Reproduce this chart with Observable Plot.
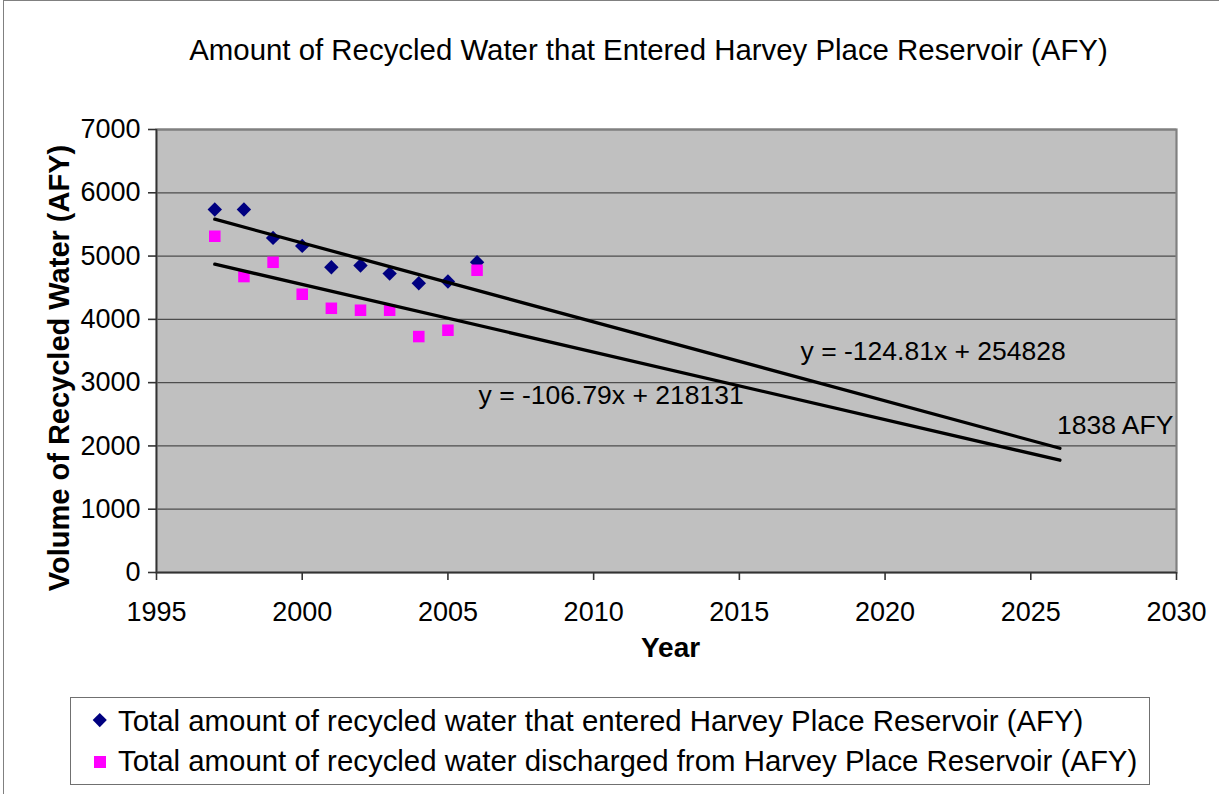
<!DOCTYPE html>
<html>
<head>
<meta charset="utf-8">
<script src="https://cdn.jsdelivr.net/npm/d3@7"></script>
<script src="https://cdn.jsdelivr.net/npm/@observablehq/plot@0.6"></script>
<style>
  html, body { margin: 0; padding: 0; background: #fff; overflow: hidden; }
  #chart { position: relative; width: 1219px; height: 794px; overflow: hidden;
           font-family: "Liberation Sans", Arial, sans-serif; color: #000; }
  #outer { position: absolute; left: 3px; top: 0px; width: 1400px; height: 1000px;
           border-left: 1.5px solid #808080; border-top: 1.5px solid #808080; box-sizing: border-box; }
  #title { position: absolute; left: 0; top: 35px; width: 1297px; text-align: center;
           font-size: 29.4px; line-height: 29px; white-space: nowrap; }
  #plot { position: absolute; left: 0; top: 0; }
  #legend { position: absolute; left: 70px; top: 697px; width: 1080px; height: 88px;
            border: 1.5px solid #707070; box-sizing: border-box; }
  .row { position: absolute; left: 47px; font-size: 29.4px; line-height: 29px; white-space: nowrap; }
  .key { position: absolute; }
</style>
</head>
<body>
<div id="chart">
  <div id="outer"></div>
  <div id="plot"></div>
  <div id="title"></div>
  <div id="legend"></div>
</div>
<script>
// Years of record
const years = [1997, 1998, 1999, 2000, 2001, 2002, 2003, 2004, 2005, 2006];
// Recycled water that entered the reservoir (AFY)
const entered = [5735, 5735, 5287, 5161, 4823, 4850, 4723, 4570, 4597, 4902];
// Recycled water discharged from the reservoir (AFY)
const discharged = [5313, 4676, 4902, 4397, 4175, 4144, 4144, 3728, 3828, 4776];

// Linear trendlines (y = slope * year + intercept), projected to 2026
const trendEntered = {slope: -124.81, intercept: 254828, from: 1997, to: 2026};
const trendDischarged = {slope: -106.79, intercept: 218131, from: 1997, to: 2026};
const projectionLabel = "1838 AFY";

// Axis ticks
const xTicks = [1995, 2000, 2005, 2010, 2015, 2020, 2025, 2030];
const yTicks = [0, 1000, 2000, 3000, 4000, 5000, 6000, 7000];

const seriesNames = [
  "Total amount of recycled water that entered Harvey Place Reservoir (AFY)",
  "Total amount of recycled water discharged from Harvey Place Reservoir (AFY)"
];
const titleText = "Amount of Recycled Water that Entered Harvey Place Reservoir (AFY)";

const enteredRows = years.map((year, i) => ({year, value: entered[i]}));
const dischargedRows = years.map((year, i) => ({year, value: discharged[i]}));
const trendRows = t => [t.from, t.to].map(year => ({year, value: t.slope * year + t.intercept}));
const eqText = t => `y = ${t.slope}x + ${t.intercept}`;

const font = "'Liberation Sans', Arial, sans-serif";

const chart = Plot.plot({
  width: 1219,
  height: 794,
  marginTop: 129,
  marginLeft: 156,
  marginRight: 43,
  marginBottom: 222,
  style: {fontFamily: font, color: "#000", background: "transparent", overflow: "visible"},
  x: {domain: [1995, 2030]},
  y: {domain: [0, 7000]},
  marks: [
    Plot.frame({fill: "#c0c0c0"}),
    Plot.gridY(yTicks, {stroke: "#4d4d4d", strokeOpacity: 1, strokeWidth: 1.3}),
    Plot.frame({stroke: "#808080", strokeWidth: 2.2}),
    Plot.ruleX([1995], {stroke: "#333", strokeWidth: 1.6}),
    Plot.ruleY([0], {stroke: "#333", strokeWidth: 1.6}),
    Plot.axisY(yTicks, {tickSize: 8, tickPadding: 8, fontSize: 27, stroke: "#333", strokeWidth: 1.6,
      tickFormat: "d", label: null}),
    Plot.axisX(xTicks, {tickSize: 8, tickPadding: 21, fontSize: 27, stroke: "#333", strokeWidth: 1.6,
      tickFormat: "d", label: null}),
    Plot.text(["Volume of Recycled Water (AFY)"], {frameAnchor: "left", rotate: -90, dx: -97, dy: 17,
      fontSize: 29, fontWeight: "bold", textAnchor: "middle"}),
    Plot.text(["Year"], {frameAnchor: "bottom", dx: 4, dy: 84, fontSize: 28, fontWeight: "bold"}),
    Plot.dot(enteredRows, {x: "year", y: "value", symbol: "diamond2", r: 6.5, fill: "#000080"}),
    Plot.dot(dischargedRows, {x: "year", y: "value", symbol: "square", r: 6.5, fill: "#ff00ff"}),
    Plot.line(trendRows(trendEntered), {x: "year", y: "value", stroke: "#000", strokeWidth: 3.3}),
    Plot.line(trendRows(trendDischarged), {x: "year", y: "value", stroke: "#000", strokeWidth: 3.3}),
    Plot.text([eqText(trendEntered)], {x: 2017.1, y: 3350, textAnchor: "start", lineAnchor: "bottom", fontSize: 26.5}),
    Plot.text([eqText(trendDischarged)], {x: 2006.05, y: 2670, textAnchor: "start", lineAnchor: "bottom", fontSize: 26.5}),
    Plot.text([projectionLabel], {x: 2025.9, y: 2196, textAnchor: "start", lineAnchor: "bottom", fontSize: 26.5})
  ]
});
document.getElementById("plot").append(chart);
document.getElementById("title").textContent = titleText;

// Legend
const legend = document.getElementById("legend");
const keys = [
  {left: 23.5, top: 17, size: 9.5, color: "#000080", rotate: 45},
  {left: 23, top: 58, size: 11.5, color: "#ff00ff", rotate: 0}
];
seriesNames.forEach((name, i) => {
  const k = keys[i];
  const key = document.createElement("div");
  key.className = "key";
  Object.assign(key.style, {
    left: k.left + "px", top: k.top + "px", width: k.size + "px", height: k.size + "px",
    background: k.color, transform: `rotate(${k.rotate}deg)`
  });
  legend.append(key);
  const row = document.createElement("div");
  row.className = "row";
  row.style.top = (i === 0 ? 8 : 48) + "px";
  row.textContent = name;
  legend.append(row);
});
</script>
</body>
</html>
